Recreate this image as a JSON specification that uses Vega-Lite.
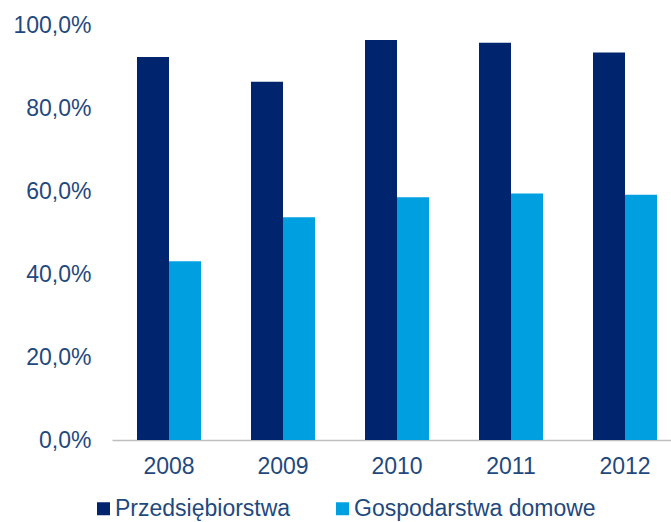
{
  "$schema": "https://vega.github.io/schema/vega-lite/v6.json",
  "width": 559,
  "height": 415,
  "autosize": {"type": "none"},
  "padding": {"left": 112, "top": 25, "right": 0, "bottom": 82},
  "background": "white",
  "data": {
    "values": [
      {"rok": "2008", "seria": "Przedsiębiorstwa", "wartosc": 92.3},
      {"rok": "2008", "seria": "Gospodarstwa domowe", "wartosc": 43.1},
      {"rok": "2009", "seria": "Przedsiębiorstwa", "wartosc": 86.3},
      {"rok": "2009", "seria": "Gospodarstwa domowe", "wartosc": 53.7},
      {"rok": "2010", "seria": "Przedsiębiorstwa", "wartosc": 96.4},
      {"rok": "2010", "seria": "Gospodarstwa domowe", "wartosc": 58.5},
      {"rok": "2011", "seria": "Przedsiębiorstwa", "wartosc": 95.7},
      {"rok": "2011", "seria": "Gospodarstwa domowe", "wartosc": 59.4},
      {"rok": "2012", "seria": "Przedsiębiorstwa", "wartosc": 93.4},
      {"rok": "2012", "seria": "Gospodarstwa domowe", "wartosc": 59.1}
    ]
  },
  "config": {
    "view": {"stroke": null},
    "font": "Liberation Sans"
  },
  "mark": {"type": "bar"},
  "encoding": {
    "x": {
      "field": "rok",
      "type": "nominal",
      "scale": {"range": [0, 570], "paddingInner": 0.4386, "paddingOuter": 0.2193},
      "axis": {
        "title": null,
        "labelAngle": 0,
        "labelFontSize": 23,
        "labelColor": "#1F497D",
        "labelPadding": 15,
        "ticks": false,
        "domainColor": "#BFBFBF",
        "domainWidth": 1.5,
        "grid": false
      }
    },
    "xOffset": {
      "field": "seria",
      "type": "nominal",
      "sort": ["Przedsiębiorstwa", "Gospodarstwa domowe"],
      "scale": {"paddingInner": 0, "paddingOuter": 0}
    },
    "y": {
      "field": "wartosc",
      "type": "quantitative",
      "scale": {"domain": [0, 100], "nice": false},
      "axis": {
        "title": null,
        "values": [0, 20, 40, 60, 80, 100],
        "labelExpr": "replace(format(datum.value, '.1f'), '.', ',') + '%'",
        "labelFontSize": 23,
        "labelColor": "#1F497D",
        "labelPadding": 21,
        "ticks": false,
        "domain": false,
        "grid": false
      }
    },
    "color": {
      "field": "seria",
      "type": "nominal",
      "scale": {
        "domain": ["Przedsiębiorstwa", "Gospodarstwa domowe"],
        "range": ["#00246E", "#00A0E0"]
      },
      "legend": {
        "title": null,
        "orient": "none",
        "legendX": -20,
        "legendY": 472,
        "direction": "horizontal",
        "symbolType": "square",
        "symbolSize": 169,
        "symbolStrokeWidth": 0,
        "labelFontSize": 23,
        "labelColor": "#1F497D",
        "labelOffset": 0,
        "columnPadding": 40,
        "labelLimit": 400
      }
    }
  }
}
